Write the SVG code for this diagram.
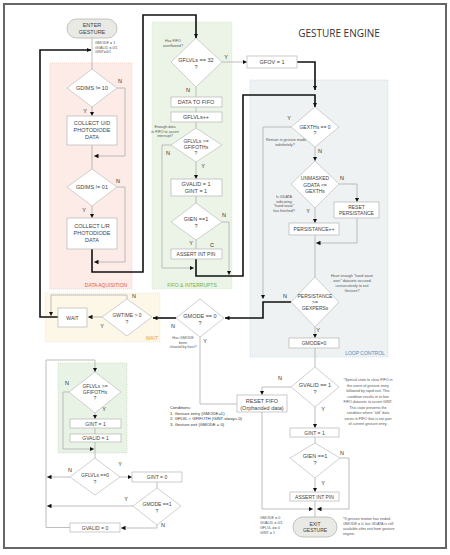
<svg xmlns="http://www.w3.org/2000/svg" width="450" height="555" viewBox="0 0 450 555">
<defs>
<marker id="ah" viewBox="0 0 10 10" refX="10" refY="5" markerWidth="4.5" markerHeight="4.5" markerUnits="userSpaceOnUse" orient="auto"><path d="M0,0 L10,5 L0,10 z" fill="#111"/></marker>
<style>
text{font-family:"Liberation Sans",Arial,sans-serif;fill:#444;text-anchor:middle}
.b{fill:#fff;stroke:#bdbdbd;stroke-width:0.8}
.d{fill:#fff;stroke:#c4c4c4;stroke-width:0.8}
.t{font-size:5.5px}
.s{font-size:5px}
.a{font-size:3.7px;fill:#555}
.l{font-size:5.5px;fill:#333}
.w{fill:none;stroke:#b5b5b5;stroke-width:0.9}
.k{fill:none;stroke:#111;stroke-width:1.6}
.al{text-anchor:start}
</style>
</defs>
<rect x="4" y="4" width="442" height="544" fill="#fff" stroke="#666" stroke-width="2"/>
<text x="339" y="37" style="font-size:10px;fill:#333;font-family:'Open Sans','Liberation Sans',sans-serif">GESTURE ENGINE</text>

<g id="regions">
<rect x="50" y="63" width="82" height="226" fill="#fcebe6" stroke="#f1c0b4" stroke-width="0.6" stroke-dasharray="1,1"/>
<text x="106" y="287" style="font-size:5px;fill:#e0604e">DATA AQUISITION</text>
<rect x="152" y="22" width="80" height="267" fill="#ebf4e7" stroke="#d2e6cb" stroke-width="0.6" stroke-dasharray="1,1"/>
<text x="192" y="287" style="font-size:5px;fill:#6db44e">FIFO &amp; INTERRUPTS</text>
<rect x="250" y="80" width="138" height="277" fill="#eef2f2" stroke="#bcd2d9" stroke-width="0.6" stroke-dasharray="1,1"/>
<text x="365" y="355" style="font-size:5px;fill:#4f8fc0">LOOP CONTROL</text>
<rect x="45" y="293" width="115" height="49" fill="#fdf7e7" stroke="#f4e3b8" stroke-width="0.6" stroke-dasharray="1,1"/>
<text x="158" y="340" style="font-size:5px;fill:#f0a030;text-anchor:end">WAIT</text>
<rect x="58" y="363" width="69" height="90" fill="#e8f2e5" stroke="#bcd9b7" stroke-width="0.6" stroke-dasharray="1,1"/>
</g>

<g id="connectors">
<path class="w" d="M92,38 V69"/>
<path class="w" d="M117,88 H125 V156 H94" marker-end="url(#ah)"/>
<path class="w" d="M92,107 V116" marker-end="url(#ah)"/>
<path class="w" d="M92,145 V169"/>
<path class="w" d="M117,187 H125 V262 H94" marker-end="url(#ah)"/>
<path class="w" d="M92,206 V218" marker-end="url(#ah)"/>
<path class="k" d="M92,249 V272 H143 V15 H196 V38" marker-end="url(#ah)"/>
<path class="w" d="M222,62 H247" marker-end="url(#ah)"/>
<path class="k" d="M297,62 H315 V90" marker-end="url(#ah)"/>
<path class="w" d="M196,87 V97"/>
<path class="w" d="M196,107 V112"/>
<path class="w" d="M196,122 V128"/>
<path class="w" d="M171,145 H162 V268 H194" marker-end="url(#ah)"/>
<path class="w" d="M196,162 V179" marker-end="url(#ah)"/>
<path class="w" d="M196,196 V203"/>
<path class="w" d="M222,222 H229 V275" marker-end="url(#ah)"/>
<path class="w" d="M196,240 V249"/>
<path class="k" d="M196,259 V276 H243 V95 H315 V107" marker-end="url(#ah)"/>
<path class="w" d="M291,127 H263 V299" marker-end="url(#ah)"/>
<path class="w" d="M315,147 V161" marker-end="url(#ah)"/>
<path class="w" d="M339,184 H357 V202" marker-end="url(#ah)"/>
<path class="w" d="M357,218 V243 H316" marker-end="url(#ah)"/>
<path class="w" d="M315,208 V223" marker-end="url(#ah)"/>
<path class="w" d="M315,235 V277"/>
<path class="k" d="M291,302 H263 V318 H225" marker-end="url(#ah)"/>
<path class="w" d="M315,327 V338" marker-end="url(#ah)"/>
<path class="w" d="M315,348 V367"/>
<path class="w" d="M291,387 H262 V395" marker-end="url(#ah)"/>
<path class="w" d="M315,407 V428" marker-end="url(#ah)"/>
<path class="w" d="M315,437 V443"/>
<path class="w" d="M340,458 H349 V509 H317" marker-end="url(#ah)"/>
<path class="w" d="M315,478 V492" marker-end="url(#ah)"/>
<path class="w" d="M315,501 V517"/>
<path class="w" d="M262,412 V509 H313" marker-end="url(#ah)"/>
<path class="w" d="M200,337 V404 H237"/>
<path class="k" d="M176,318 H153" marker-end="url(#ah)"/>
<path class="w" d="M127,299 V295 H51 V316" marker-end="url(#ah)"/>
<path class="w" d="M102,317 H88" marker-end="url(#ah)"/>
<path class="k" d="M58,317 H40 V50 H91" marker-end="url(#ah)"/>
<path class="w" d="M70,527.5 H46 V360 H95 V372" marker-end="url(#ah)"/>
<path class="w" d="M69,392 H63 V449 H94" marker-end="url(#ah)"/>
<path class="w" d="M95,413 V419" marker-end="url(#ah)"/>
<path class="w" d="M95,428 V434"/>
<path class="w" d="M95,442 V458"/>
<path class="w" d="M70,477 H47" marker-end="url(#ah)"/>
<path class="w" d="M120,477 H132" marker-end="url(#ah)"/>
<path class="w" d="M157,482 V488"/>
<path class="w" d="M133,506 H47" marker-end="url(#ah)"/>
<path class="w" d="M157,525 V528 H121" marker-end="url(#ah)"/>
</g>

<g id="labels" class="l">
<text x="120" y="83" class="l">N</text>
<text x="85" y="113" class="l">Y</text>
<text x="118" y="183" class="l">N</text>
<text x="84" y="212" class="l">Y</text>
<text x="226" y="59" class="l">Y</text>
<text x="188" y="92" class="l">N</text>
<text x="168" y="155" class="l">N</text>
<text x="203" y="168" class="l">Y</text>
<text x="224" y="217" class="l">N</text>
<text x="191" y="245" class="l">Y</text>
<text x="212" y="247" class="l">C</text>
<text x="289" y="120" class="l">Y</text>
<text x="320" y="153" class="l">N</text>
<text x="342" y="180" class="l">N</text>
<text x="308" y="213" class="l">Y</text>
<text x="285" y="298" class="l">N</text>
<text x="318" y="332" class="l">Y</text>
<text x="280" y="380" class="l">N</text>
<text x="323" y="411" class="l">Y</text>
<text x="342" y="455" class="l">N</text>
<text x="323" y="485" class="l">Y</text>
<text x="173" y="328" class="l">N</text>
<text x="205" y="343" class="l">Y</text>
<text x="134" y="298" class="l">N</text>
<text x="102" y="328" class="l">Y</text>
<text x="67" y="385" class="l">N</text>
<text x="104" y="411" class="l">Y</text>
<text x="70" y="472" class="l">N</text>
<text x="120" y="466" class="l">Y</text>
<text x="126" y="501" class="l">Y</text>
<text x="163" y="527" class="l">N</text>
</g>

<g id="enter">
<rect x="67" y="19" width="50" height="19" rx="9.5" fill="#e9e9e5" stroke="#b5b5b0" stroke-width="0.8"/>
<text x="92" y="27" class="t">ENTER</text><text x="92" y="34" class="t">GESTURE</text>
<text x="95" y="44" class="a al">GMODE = 1</text><text x="95" y="48.5" class="a al">GVALID = 0/1</text><text x="95" y="53" class="a al">GINT=0/1</text>
</g>
<g id="gdims10"><polygon class="d" points="92,69 117,88 92,107 67,88"/><text x="92" y="90" class="t">GDIMS != 10</text></g>
<g id="collectud"><rect class="b" x="67" y="116" width="50" height="29"/><text x="92" y="125" class="t">COLLECT U/D</text><text x="92" y="132" class="t">PHOTODIODE</text><text x="92" y="139" class="t">DATA</text></g>
<g id="gdims01"><polygon class="d" points="92,169 117,187 92,206 67,187"/><text x="92" y="189" class="t">GDIMS != 01</text></g>
<g id="collectlr"><rect class="b" x="67" y="218" width="50" height="31"/><text x="92" y="228" class="t">COLLECT L/R</text><text x="92" y="235" class="t">PHOTODIODE</text><text x="92" y="242" class="t">DATA</text></g>

<g id="gflvl32"><polygon class="d" points="196,38 222,62 196,87 171,62"/><text x="196" y="62" class="t">GFLVLs == 32</text><text x="196" y="69" class="t">?</text>
<text x="173" y="42" class="a">Has FIFO</text><text x="173" y="46.5" class="a">overflowed?</text></g>
<g id="gfov"><rect class="b" x="247" y="56" width="50" height="12"/><text x="272" y="64" class="t">GFOV = 1</text></g>
<g id="datatofifo"><rect class="b" x="171" y="97" width="51" height="10"/><text x="196" y="104" class="t">DATA TO FIFO</text></g>
<g id="gflvlinc"><rect class="b" x="171" y="112" width="51" height="10"/><text x="196" y="119" class="t">GFLVLs++</text></g>
<g id="gflvlth"><polygon class="d" points="196,128 222,145 196,162 171,145"/><text x="196" y="143" class="s">GFLVLs &gt;=</text><text x="196" y="149" class="s">GFIFOTHs</text><text x="196" y="155" class="s">?</text>
<text x="165" y="128" class="a">Enough data</text><text x="165" y="132.5" class="a">in FIFO to assert</text><text x="165" y="137" class="a">interrupt?</text></g>
<g id="gvalid1"><rect class="b" x="171" y="179" width="51" height="17"/><text x="196" y="186" class="t">GVALID = 1</text><text x="196" y="193" class="t">GINT = 1</text></g>
<g id="gien1"><polygon class="d" points="196,203 222,222 196,240 171,222"/><text x="196" y="221" class="t">GIEN ==1</text><text x="196" y="228" class="t">?</text></g>
<g id="assert1"><rect class="b" x="171" y="249" width="51" height="10"/><text x="196" y="256" class="s">ASSERT INT PIN</text></g>

<g id="gexths"><polygon class="d" points="315,107 339,127 315,147 291,127"/><text x="315" y="129" class="s">GEXTHs == 0</text><text x="315" y="135" class="s">?</text>
<text x="286" y="141" class="a">Remain in gesture mode</text><text x="285" y="146" class="a">indefinitely?</text></g>
<g id="unmasked"><polygon class="d" points="315,161 339,184 315,208 291,184"/><text x="315" y="180" class="s">UNMASKED</text><text x="315" y="186.5" class="s">GDATA &lt;=</text><text x="315" y="193" class="s">GEXTHs</text>
<text x="284" y="198" class="a">Is GDATA</text><text x="284" y="202.5" class="a">indicating</text><text x="284" y="207" class="a">"hand wave"</text><text x="284" y="211.5" class="a">has finished?</text></g>
<g id="resetpers"><rect class="b" x="334" y="202" width="45" height="16"/><text x="356.5" y="209" class="s">RESET</text><text x="356.5" y="215" class="s">PERSISTANCE</text></g>
<g id="persinc"><rect class="b" x="289" y="223" width="50" height="12"/><text x="314" y="231" class="s">PERSISTANCE++</text></g>
<g id="persdiamond"><polygon class="d" points="315,277 339,302 315,327 291,302"/><text x="315" y="298" class="s">PERSISTANCE</text><text x="315" y="304" class="s">&gt;=</text><text x="315" y="310" class="s">GEXPERSs</text>
<text x="352" y="277" class="a">Have enough "hand wave</text><text x="352" y="282" class="a">over" datasets occured</text><text x="352" y="287" class="a">consecutively to exit</text><text x="352" y="292" class="a">Gesture?</text></g>
<g id="gmode0box"><rect class="b" x="289" y="338" width="50" height="10"/><text x="314" y="345" class="s">GMODE=0</text></g>
<g id="gvalidq"><polygon class="d" points="315,367 339,387 315,407 291,387"/><text x="315" y="387" class="t">GVALID == 1</text><text x="315" y="394" class="t">?</text>
<text x="368" y="381" class="a">*Special state to clear FIFO in</text><text x="368" y="386.5" class="a">the event of gesture entry</text><text x="368" y="392" class="a">followed by rapid exit. This</text><text x="368" y="397.5" class="a">condition results in to few</text><text x="368" y="403" class="a">FIFO datasets to assert GINT.</text><text x="368" y="408.5" class="a">This state prevents the</text><text x="368" y="414" class="a">condition where "old" data</text><text x="368" y="419.5" class="a">exists in FIFO that is not part</text><text x="368" y="425" class="a">of current gesture entry.</text></g>
<g id="gint1r"><rect class="b" x="290" y="428" width="49" height="9"/><text x="314.5" y="434.5" class="s">GINT = 1</text></g>
<g id="gien2"><polygon class="d" points="315,443 340,458 315,478 290,458"/><text x="315" y="458" class="t">GIEN ==1</text><text x="315" y="465" class="t">?</text></g>
<g id="assert2"><rect class="b" x="290" y="492" width="49" height="9"/><text x="314.5" y="498.5" class="s">ASSERT INT PIN</text></g>
<g id="exit"><rect x="293" y="517" width="44" height="20" rx="10" fill="#e9e9e5" stroke="#b5b5b0" stroke-width="0.8"/><text x="315" y="525.5" class="s">EXIT</text><text x="315" y="532" class="s">GESTURE</text>
<text x="343" y="520" class="a al">*If gesture motion has ended,</text><text x="343" y="525" class="a al">GMODE = 0, but GDATA is still</text><text x="343" y="530" class="a al">available after exit from gesture</text><text x="343" y="535" class="a al">engine.</text>
<text x="260" y="519" class="a al">GMODE = 0</text><text x="260" y="524" class="a al">GVALID = 0/1</text><text x="260" y="529" class="a al">GFLVL == 0</text><text x="260" y="534" class="a al">GINT = 1</text></g>
<g id="resetfifo"><rect class="b" x="237" y="395" width="50" height="17"/><text x="262" y="402.5" class="t">RESET FIFO</text><text x="262" y="409.5" class="t">(Orphanded data)</text>
<text x="170" y="409" class="a al" style="font-size:4.2px;fill:#333">Conditions:</text><text x="170" y="414.5" class="a al" style="font-size:4.2px;fill:#333">1. Gesture entry (GMODE=1)</text><text x="170" y="420" class="a al" style="font-size:4.2px;fill:#333">2. GFLVL &lt; GFIFOTH (GINT always 0)</text><text x="170" y="425.5" class="a al" style="font-size:4.2px;fill:#333">3. Gesture exit (GMODE = 0)</text></g>
<g id="gmodeq"><polygon class="d" points="200,299 224,318 200,337 176,318"/><text x="200" y="318" class="t">GMODE == 0</text><text x="200" y="325" class="t">?</text>
<text x="183" y="339" class="a">Has GMODE</text><text x="183" y="343.5" class="a">been</text><text x="183" y="348" class="a">cleared by host?</text></g>
<g id="gwtime"><polygon class="d" points="127,299 152,317 127,336 102,317"/><text x="127" y="317" class="s">GWTIME &gt; 0</text><text x="127" y="324" class="s">?</text></g>
<g id="wait"><rect class="b" x="58" y="308" width="29" height="19"/><text x="72.5" y="319.5" class="s">WAIT</text></g>
<g id="gflvlth2"><polygon class="d" points="95,372 121,392 95,413 69,392"/><text x="95" y="388" class="s">GFLVLs &gt;=</text><text x="95" y="394" class="s">GFIFOTHs</text><text x="95" y="400" class="s">?</text></g>
<g id="gint1l"><rect class="b" x="70" y="419" width="51" height="9"/><text x="95.5" y="425.5" class="s">GINT = 1</text></g>
<g id="gvalid1l"><rect class="b" x="70" y="434" width="51" height="8"/><text x="95.5" y="440" class="s">GVALID = 1</text></g>
<g id="gflvl0"><polygon class="d" points="95,458 120,477 95,495 70,477"/><text x="95" y="477" class="s">GFLVLs ==0</text><text x="95" y="484" class="s">?</text></g>
<g id="gint0"><rect class="b" x="132" y="472" width="50" height="10"/><text x="157" y="479" class="s">GINT = 0</text></g>
<g id="gmode1"><polygon class="d" points="157,488 181,506 157,525 133,506"/><text x="157" y="506" class="s">GMODE ==1</text><text x="157" y="513" class="s">?</text></g>
<g id="gvalid0"><rect class="b" x="70" y="523" width="50" height="9"/><text x="95" y="529.5" class="s">GVALID = 0</text></g>
</svg>
